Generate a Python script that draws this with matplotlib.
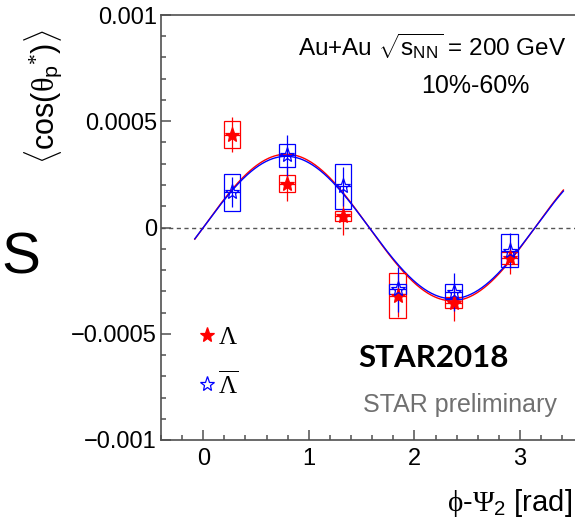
import numpy as np
import matplotlib
matplotlib.use("Agg")
import matplotlib.pyplot as plt
from matplotlib.patches import Rectangle

plt.rcParams["font.family"] = ["Liberation Sans", "DejaVu Sans"]
plt.rcParams["mathtext.fontset"] = "custom"
plt.rcParams["mathtext.rm"] = "Liberation Serif"
plt.rcParams["mathtext.it"] = "Liberation Serif"
plt.rcParams["mathtext.sf"] = "Liberation Sans"
plt.rcParams["mathtext.bf"] = "Liberation Sans:bold"

# phi - Psi_2 bin centres [rad]
phi_bins = [0.27, 0.79, 1.32, 1.84, 2.37, 2.90]

# Lambda
lam_val = [0.000437, 0.000207, 0.000054, -0.000320, -0.000354, -0.000142]
lam_stat = [0.000081, 0.000082, 0.000088, 0.000100, 0.000085, 0.000076]
lam_sys = [0.000064, 0.000042, 0.000022, 0.000104, 0.000026, 0.000029]

# anti-Lambda
alam_val = [0.000166, 0.000340, 0.000193, -0.000290, -0.000302, -0.000110]
alam_stat = [0.000070, 0.000097, 0.000090, 0.000106, 0.000090, 0.000082]
alam_sys = [0.000088, 0.000053, 0.000104, 0.000024, 0.000035, 0.000078]

# sine fits: p0 + p1 * sin(2(phi - Psi_2))
lam_fit = (0.0, 0.000345)
alam_fit = (0.0, 0.000335)
fit_range = (-0.08, 3.41)

y_ticks = [-0.001, -0.0005, 0.0, 0.0005, 0.001]
y_ticklabels = ["\u22120.001", "\u22120.0005", "0", "0.0005", "0.001"]
x_ticks = [0, 1, 2, 3]
x_ticklabels = ["0", "1", "2", "3"]

W, H = 575, 529
fig = plt.figure(figsize=(W / 100, H / 100), dpi=100)
ax = fig.add_axes([161 / W, 1 - 440 / H, 1 - 161 / W, (440 - 15) / H])
ax.set_xlim(-0.40, 3.52)
ax.set_ylim(-0.001, 0.001)

axis_col = "#505050"
for side in ("left", "bottom", "top"):
    ax.spines[side].set_color(axis_col)
    ax.spines[side].set_linewidth(1.2)
ax.spines["right"].set_visible(False)

ax.set_yticks(y_ticks)
ax.set_yticklabels(y_ticklabels)
ax.set_yticks(np.arange(-0.001, 0.00101, 0.0001), minor=True)
ax.set_xticks(x_ticks)
ax.set_xticklabels(x_ticklabels)
ax.set_xticks(np.arange(-0.4, 3.55, 0.2), minor=True)
ax.tick_params(which="both", direction="in", color=axis_col, width=1.1,
               labelsize=17, top=False, right=False)
ax.tick_params(which="major", length=7.5)
ax.tick_params(which="minor", length=3.8)
ax.tick_params(axis="y", pad=3)
ax.tick_params(axis="x", pad=6)

ax.axhline(0, color="#555555", lw=1.0, ls=(0, (3, 2.5)), zorder=1)

xs = np.linspace(fit_range[0], fit_range[1], 400)
box_hw = 0.077


def draw_series(vals, stat, sys, fit, color, filled):
    p0, p1 = fit
    ax.plot(xs, p0 + p1 * np.sin(2 * xs), color=color, lw=1.0, zorder=2)
    for x, v, e, s in zip(phi_bins, vals, stat, sys):
        ax.add_patch(Rectangle((x - box_hw, v - s), 2 * box_hw, 2 * s,
                               fill=False, edgecolor=color, lw=0.9, zorder=3))
    ax.errorbar(phi_bins, vals, yerr=stat, xerr=box_hw, fmt="none",
                ecolor=color, elinewidth=0.9, capsize=0, zorder=3)
    line, = ax.plot(phi_bins, vals, ls="none", marker="*", markersize=11,
                    markerfacecolor=color if filled else "none",
                    markeredgecolor=color, markeredgewidth=0.9, zorder=4)
    return line


h_lam = draw_series(lam_val, lam_stat, lam_sys, lam_fit, "#ff0000", True)
h_alam = draw_series(alam_val, alam_stat, alam_sys, alam_fit, "#0000ff", False)

leg = ax.legend([h_lam, h_alam], [r"$\Lambda$", r"$\overline{\Lambda}$"],
                loc="upper left", bbox_to_anchor=(199 / W, 1 - 325 / H),
                bbox_transform=fig.transFigure, frameon=False, fontsize=18,
                handlelength=0.6, handletextpad=0.15, labelspacing=0.85,
                borderpad=0, borderaxespad=0)


def ftext(x, y, s, **kw):
    fig.text(x / W, 1 - y / H, s, **kw)


ftext(432, 47, r"Au+Au $\sqrt{\mathsf{s}_{\mathsf{NN}}}$ = 200 GeV",
      fontsize=17.5, ha="center", va="center")
ftext(475, 86, "10%-60%", fontsize=18, ha="center", va="center")
ftext(434, 358, "STAR2018", fontsize=22.5, fontweight="bold",
      family="Lato", ha="center", va="center")
ftext(460, 405, "STAR preliminary", fontsize=18, color="#707070",
      ha="center", va="center")
ftext(572, 503, r"$\phi$-$\Psi_{\mathsf{2}}$ [rad]", fontsize=21,
      ha="right", va="center")
ftext(43, 29, r"$\langle\mathsf{cos(}\theta_{\mathsf{p}}{}^{*}\mathsf{)}\rangle$",
      fontsize=22, rotation=90, ha="center", va="top")
ftext(1, 273, "S", fontsize=42, family="Liberation Sans", ha="left",
      va="baseline")

fig.savefig("out.png", dpi=100)
